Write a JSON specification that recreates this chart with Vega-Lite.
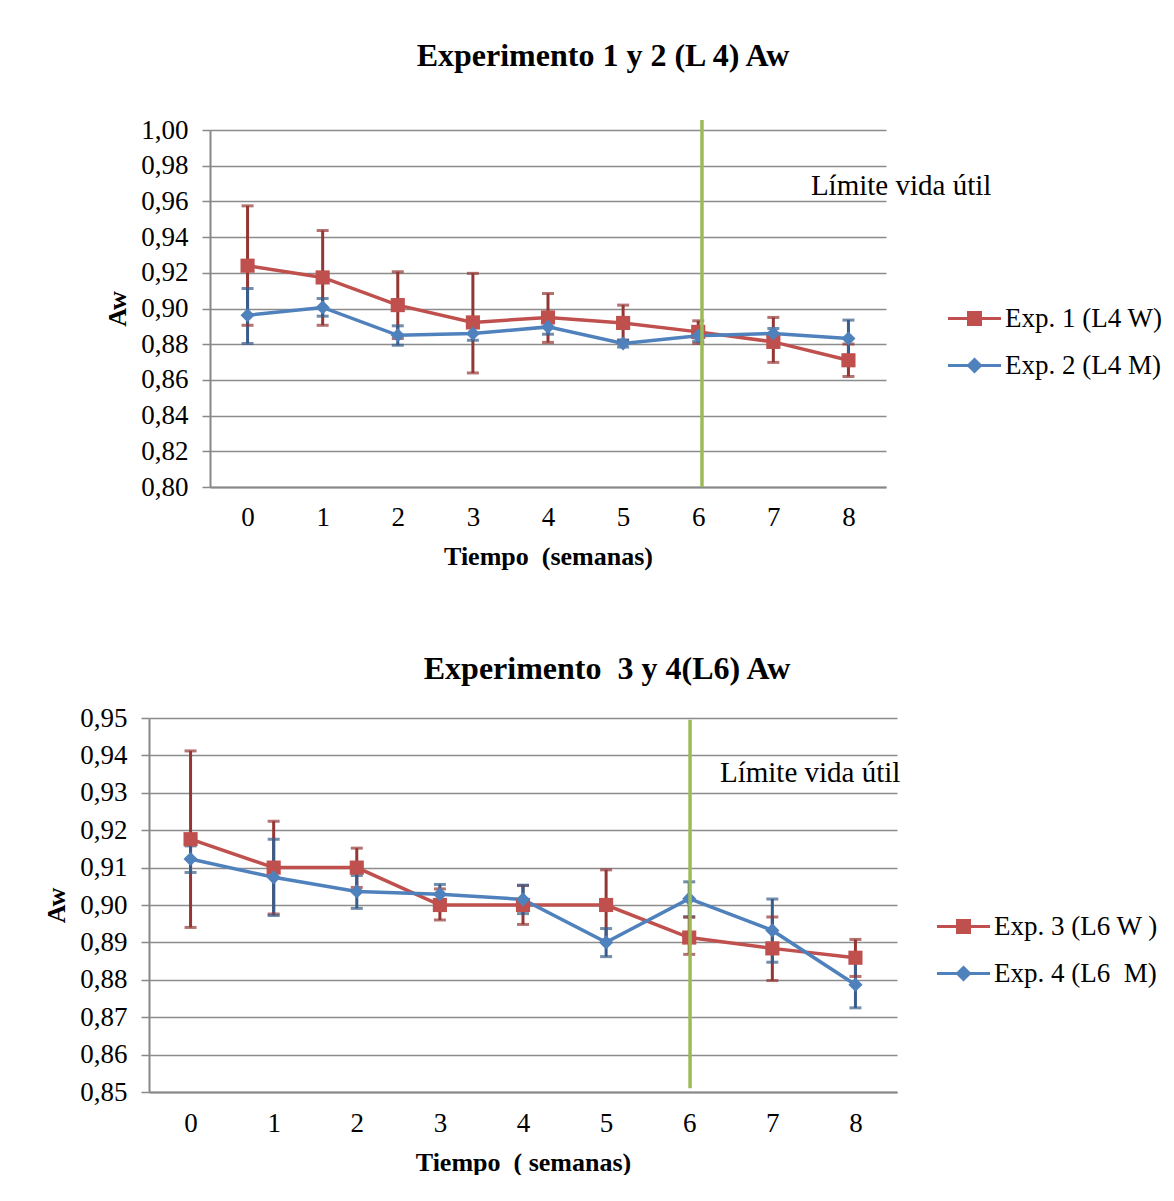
{
  "$schema": "https://vega.github.io/schema/vega-lite/v6.json",
  "background": "white",
  "padding": {"left": 43, "top": 40, "right": 0, "bottom": 0},
  "config": {
    "locale": {"number": {"decimal": ",", "thousands": ".", "grouping": [3], "currency": ["", " €"]}},
    "view": {"stroke": null},
    "font": "Liberation Serif",
    "title": {"font": "Liberation Serif", "fontSize": 32, "fontWeight": "bold", "color": "black", "anchor": "middle", "frame": "group"},
    "axis": {"labelFont": "Liberation Serif", "labelFontSize": 27, "labelColor": "black", "titleFont": "Liberation Serif", "titleFontSize": 26, "titleFontWeight": "bold", "titleColor": "black", "domainColor": "#888888", "domainWidth": 2, "tickColor": "#888888", "tickWidth": 1.5, "gridColor": "#8c8c8c", "gridWidth": 1.5},
    "legend": {"labelFont": "Liberation Serif", "labelFontSize": 27, "labelColor": "black", "labelLimit": 400}
  },
  "datasets": {
    "top": [
      {"t": 0, "serie": "Exp. 1 (L4 W)", "aw": 0.924, "lo": 0.8906, "hi": 0.9575},
      {"t": 1, "serie": "Exp. 1 (L4 W)", "aw": 0.9174, "lo": 0.8906, "hi": 0.9437},
      {"t": 2, "serie": "Exp. 1 (L4 W)", "aw": 0.9019, "lo": 0.8832, "hi": 0.9206},
      {"t": 3, "serie": "Exp. 1 (L4 W)", "aw": 0.8922, "lo": 0.8639, "hi": 0.9197},
      {"t": 4, "serie": "Exp. 1 (L4 W)", "aw": 0.895, "lo": 0.881, "hi": 0.9084},
      {"t": 5, "serie": "Exp. 1 (L4 W)", "aw": 0.8919, "lo": 0.882, "hi": 0.9019},
      {"t": 6, "serie": "Exp. 1 (L4 W)", "aw": 0.8869, "lo": 0.8805, "hi": 0.8931},
      {"t": 7, "serie": "Exp. 1 (L4 W)", "aw": 0.8813, "lo": 0.8698, "hi": 0.895},
      {"t": 8, "serie": "Exp. 1 (L4 W)", "aw": 0.871, "lo": 0.8619, "hi": 0.8801},
      {"t": 0, "serie": "Exp. 2 (L4 M)", "aw": 0.8962, "lo": 0.8804, "hi": 0.9112},
      {"t": 1, "serie": "Exp. 2 (L4 M)", "aw": 0.9006, "lo": 0.8957, "hi": 0.9056},
      {"t": 2, "serie": "Exp. 2 (L4 M)", "aw": 0.885, "lo": 0.8794, "hi": 0.8903},
      {"t": 3, "serie": "Exp. 2 (L4 M)", "aw": 0.886, "lo": 0.8822, "hi": 0.8898},
      {"t": 4, "serie": "Exp. 2 (L4 M)", "aw": 0.8897, "lo": 0.8856, "hi": 0.8938},
      {"t": 5, "serie": "Exp. 2 (L4 M)", "aw": 0.8804, "lo": 0.8784, "hi": 0.8824},
      {"t": 6, "serie": "Exp. 2 (L4 M)", "aw": 0.8847, "lo": 0.8817, "hi": 0.8877},
      {"t": 7, "serie": "Exp. 2 (L4 M)", "aw": 0.886, "lo": 0.8832, "hi": 0.8888},
      {"t": 8, "serie": "Exp. 2 (L4 M)", "aw": 0.8832, "lo": 0.8729, "hi": 0.8935}
    ],
    "bottom": [
      {"t": 0, "serie": "Exp. 3 (L6 W )", "aw": 0.9176, "lo": 0.894, "hi": 0.9412},
      {"t": 1, "serie": "Exp. 3 (L6 W )", "aw": 0.91, "lo": 0.8976, "hi": 0.9224},
      {"t": 2, "serie": "Exp. 3 (L6 W )", "aw": 0.91, "lo": 0.9047, "hi": 0.9152},
      {"t": 3, "serie": "Exp. 3 (L6 W )", "aw": 0.9, "lo": 0.896, "hi": 0.9043},
      {"t": 4, "serie": "Exp. 3 (L6 W )", "aw": 0.9, "lo": 0.8948, "hi": 0.9052},
      {"t": 5, "serie": "Exp. 3 (L6 W )", "aw": 0.9, "lo": 0.8906, "hi": 0.9094},
      {"t": 6, "serie": "Exp. 3 (L6 W )", "aw": 0.8913, "lo": 0.8868, "hi": 0.8967},
      {"t": 7, "serie": "Exp. 3 (L6 W )", "aw": 0.8884, "lo": 0.8798, "hi": 0.8968},
      {"t": 8, "serie": "Exp. 3 (L6 W )", "aw": 0.8859, "lo": 0.8809, "hi": 0.8908},
      {"t": 0, "serie": "\u00a0Exp. 4 (L6\u00a0\u00a0M)", "aw": 0.9123, "lo": 0.9087, "hi": 0.9158},
      {"t": 1, "serie": "\u00a0Exp. 4 (L6\u00a0\u00a0M)", "aw": 0.9074, "lo": 0.8972, "hi": 0.9176},
      {"t": 2, "serie": "\u00a0Exp. 4 (L6\u00a0\u00a0M)", "aw": 0.9036, "lo": 0.8991, "hi": 0.9079},
      {"t": 3, "serie": "\u00a0Exp. 4 (L6\u00a0\u00a0M)", "aw": 0.9029, "lo": 0.9003, "hi": 0.9055},
      {"t": 4, "serie": "\u00a0Exp. 4 (L6\u00a0\u00a0M)", "aw": 0.9015, "lo": 0.8977, "hi": 0.9053},
      {"t": 5, "serie": "\u00a0Exp. 4 (L6\u00a0\u00a0M)", "aw": 0.89, "lo": 0.8862, "hi": 0.8937},
      {"t": 6, "serie": "\u00a0Exp. 4 (L6\u00a0\u00a0M)", "aw": 0.9017, "lo": 0.8969, "hi": 0.9062},
      {"t": 7, "serie": "\u00a0Exp. 4 (L6\u00a0\u00a0M)", "aw": 0.8932, "lo": 0.8847, "hi": 0.9016},
      {"t": 8, "serie": "\u00a0Exp. 4 (L6\u00a0\u00a0M)", "aw": 0.8787, "lo": 0.8725, "hi": 0.8849}
    ]
  },
  "spacing": 84,
  "resolve": {"scale": {"x": "independent", "y": "independent", "color": "independent"}, "legend": {"color": "independent"}},
  "vconcat": [
    {
      "spacing": 20,
      "bounds": "flush",
      "hconcat": [
        {"width": 41, "height": 10, "view": {"stroke": "transparent"}, "data": {"values": []}, "mark": "point", "encoding": {}},
        {
          "width": 676,
          "height": 357,
          "title": {"text": "Experimento 1 y 2 (L 4) Aw", "offset": 43, "dx": 55},
          "data": {"name": "top"},
          "encoding": {
            "x": {"field": "t", "type": "quantitative", "scale": {"domain": [-0.5, 8.5], "nice": false, "zero": false},
                  "axis": {"title": "Tiempo\u00a0\u00a0(semanas)", "values": [0,1,2,3,4,5,6,7,8], "format": "d", "grid": false, "ticks": false, "tickSize": 0, "labelPadding": 17, "titlePadding": 13}},
            "y": {"field": "aw", "type": "quantitative", "scale": {"domain": [0.8, 1.0], "nice": false, "zero": false},
                  "axis": {"title": "Aw", "values": [0.8,0.82,0.84,0.86,0.88,0.9,0.92,0.94,0.96,0.98,1.0], "format": ".2f", "grid": true, "tickSize": 8, "labelPadding": 14, "titlePadding": 10}}
          },
          "layer": [
            {"mark": {"type": "rule", "strokeWidth": 3},
             "encoding": {"y": {"field": "lo", "type": "quantitative"}, "y2": {"field": "hi"},
                          "stroke": {"condition": {"test": "indexof(datum.serie, 'W') >= 0", "value": "#943634"}, "value": "#385D8A"}}},
            {"mark": {"type": "tick", "orient": "horizontal", "size": 12, "thickness": 3},
             "encoding": {"y": {"field": "lo", "type": "quantitative"},
                          "fill": {"condition": {"test": "indexof(datum.serie, 'W') >= 0", "value": "#943634"}, "value": "#385D8A"}}},
            {"mark": {"type": "tick", "orient": "horizontal", "size": 12, "thickness": 3},
             "encoding": {"y": {"field": "hi", "type": "quantitative"},
                          "fill": {"condition": {"test": "indexof(datum.serie, 'W') >= 0", "value": "#943634"}, "value": "#385D8A"}}},
            {"mark": {"type": "line", "strokeWidth": 3.5},
             "encoding": {"color": {"field": "serie", "type": "nominal", "scale": {"domain": ["Exp. 1 (L4 W)", "Exp. 2 (L4 M)"], "range": ["#C0504D", "#4F81BD"]},
               "legend": {"title": null, "orient": "none", "legendX": 812, "legendY": 175, "symbolSize": 400, "labelOffset": 17, "rowPadding": 19, "padding": 0,
                 "encode": {"symbols": {"update": {
                   "shape": {"signal": "indexof(datum.label, 'W') >= 0 ? 'M-2.65,0H2.65M-0.6,-0.6H0.6V0.6H-0.6Z' : 'M-2.65,0H2.65M0,-0.6L0.6,0L0,0.6L-0.6,0Z'"},
                   "fill": {"signal": "indexof(datum.label, 'W') >= 0 ? '#C0504D' : '#4F81BD'"},
                   "stroke": {"signal": "indexof(datum.label, 'W') >= 0 ? '#C0504D' : '#4F81BD'"},
                   "strokeWidth": {"value": 3},
                   "opacity": {"value": 1},
                   "fillOpacity": {"value": 1}}}}}}}},
            {"mark": {"type": "point", "filled": true, "size": 200, "opacity": 1},
             "encoding": {"color": {"field": "serie", "type": "nominal"},
                          "shape": {"condition": {"test": "indexof(datum.serie, 'W') >= 0", "value": "square"}, "value": "diamond"}}},
            {"data": {"values": [{"t": 7.5, "aw": 0.9686, "label": "Límite vida útil"}]},
             "mark": {"type": "text", "align": "left", "baseline": "middle", "fontSize": 29, "font": "Liberation Serif", "color": "black"},
             "encoding": {"text": {"field": "label"}}},
            {"data": {"values": [{"t": 6.05, "aw": 0.8, "top": 1.0056}]},
             "mark": {"type": "rule", "color": "#9BBB59", "strokeWidth": 3.5},
             "encoding": {"y2": {"field": "top"}}}
          ]
        }
      ]
    },
    {
      "width": 748,
      "height": 374,
      "title": {"text": "Experimento\u00a0\u00a03 y 4(L6) Aw", "offset": 18, "dx": 84},
      "data": {"name": "bottom"},
      "encoding": {
        "x": {"field": "t", "type": "quantitative", "scale": {"domain": [-0.5, 8.5], "nice": false, "zero": false},
              "axis": {"title": "Tiempo\u00a0\u00a0( semanas)", "values": [0,1,2,3,4,5,6,7,8], "format": "d", "grid": false, "ticks": false, "tickSize": 0, "labelPadding": 18, "titlePadding": 13}},
        "y": {"field": "aw", "type": "quantitative", "scale": {"domain": [0.85, 0.95], "nice": false, "zero": false},
              "axis": {"title": "Aw", "values": [0.85,0.86,0.87,0.88,0.89,0.9,0.91,0.92,0.93,0.94,0.95], "format": ".2f", "grid": true, "tickSize": 8, "labelPadding": 14, "titlePadding": 10}}
      },
      "layer": [
        {"mark": {"type": "rule", "strokeWidth": 3},
         "encoding": {"y": {"field": "lo", "type": "quantitative"}, "y2": {"field": "hi"},
                      "stroke": {"condition": {"test": "indexof(datum.serie, 'W') >= 0", "value": "#943634"}, "value": "#385D8A"}}},
        {"mark": {"type": "tick", "orient": "horizontal", "size": 12, "thickness": 3},
         "encoding": {"y": {"field": "lo", "type": "quantitative"},
                      "fill": {"condition": {"test": "indexof(datum.serie, 'W') >= 0", "value": "#943634"}, "value": "#385D8A"}}},
        {"mark": {"type": "tick", "orient": "horizontal", "size": 12, "thickness": 3},
         "encoding": {"y": {"field": "hi", "type": "quantitative"},
                      "fill": {"condition": {"test": "indexof(datum.serie, 'W') >= 0", "value": "#943634"}, "value": "#385D8A"}}},
        {"mark": {"type": "line", "strokeWidth": 3.5},
         "encoding": {"color": {"field": "serie", "type": "nominal", "scale": {"domain": ["Exp. 3 (L6 W )", "\u00a0Exp. 4 (L6\u00a0\u00a0M)"], "range": ["#C0504D", "#4F81BD"]},
           "legend": {"title": null, "orient": "none", "legendX": 801, "legendY": 195, "symbolSize": 400, "labelOffset": 17, "rowPadding": 19, "padding": 0,
             "encode": {"symbols": {"update": {
               "shape": {"signal": "indexof(datum.label, 'W') >= 0 ? 'M-2.65,0H2.65M-0.6,-0.6H0.6V0.6H-0.6Z' : 'M-2.65,0H2.65M0,-0.6L0.6,0L0,0.6L-0.6,0Z'"},
               "fill": {"signal": "indexof(datum.label, 'W') >= 0 ? '#C0504D' : '#4F81BD'"},
               "stroke": {"signal": "indexof(datum.label, 'W') >= 0 ? '#C0504D' : '#4F81BD'"},
               "strokeWidth": {"value": 3},
               "opacity": {"value": 1},
               "fillOpacity": {"value": 1}}}}}}}},
        {"mark": {"type": "point", "filled": true, "size": 200, "opacity": 1},
         "encoding": {"color": {"field": "serie", "type": "nominal"},
                      "shape": {"condition": {"test": "indexof(datum.serie, 'W') >= 0", "value": "square"}, "value": "diamond"}}},
        {"data": {"values": [{"t": 6.37, "aw": 0.9353, "label": "Límite vida útil"}]},
         "mark": {"type": "text", "align": "left", "baseline": "middle", "fontSize": 29, "font": "Liberation Serif", "color": "black"},
         "encoding": {"text": {"field": "label"}}},
        {"data": {"values": [{"t": 6.01, "aw": 0.851, "top": 0.9495}]},
         "mark": {"type": "rule", "color": "#9BBB59", "strokeWidth": 3.5},
         "encoding": {"y2": {"field": "top"}}}
      ]
    }
  ]
}
